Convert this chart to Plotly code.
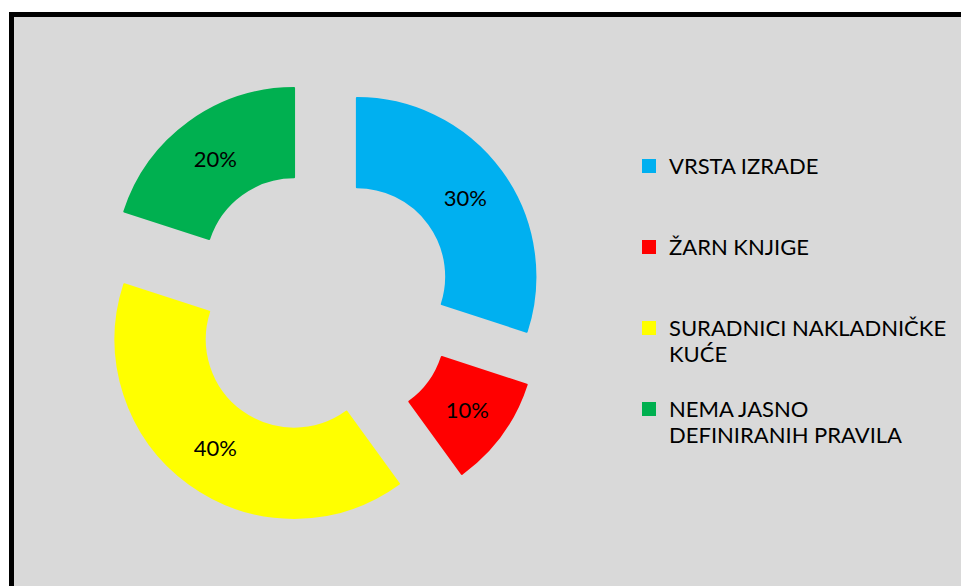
import plotly.graph_objects as go

categories = ["VRSTA IZRADE", "ŽARN KNJIGE", "SURADNICI NAKLADNIČKE KUĆE", "NEMA JASNO DEFINIRANIH PRAVILA"]
legend_lines = [
    ["VRSTA IZRADE", " ", " "],
    ["ŽARN KNJIGE", " ", " "],
    ["SURADNICI NAKLADNIČKE", "KUĆE", " "],
    ["NEMA JASNO", "DEFINIRANIH PRAVILA"],
]
values = [30, 10, 40, 20]
colors = ["#00B0F0", "#FF0000", "#FFFF00", "#00B050"]

W, H = 961, 586
cx, cy = 320.5, 303.0
half = 223.5

legend_labels = ["<br>".join('<span style="font-size:22px">%s</span>' % t for t in lines)
                 for lines in legend_lines]

fig = go.Figure(go.Pie(
    labels=legend_labels,
    values=values,
    marker=dict(colors=colors, line=dict(width=2, color=colors)),
    hole=0.5,
    pull=[0.252] * 4,
    sort=False,
    direction="clockwise",
    rotation=0,
    textinfo="percent",
    texttemplate="%{percent:.0%}",
    textposition="inside",
    insidetextorientation="horizontal",
    textfont=dict(family="Lato", size=22, color="#000000"),
    domain=dict(x=[(cx - half) / W, (cx + half) / W],
                y=[1 - (cy + half) / H, 1 - (cy - half) / H]),
))

fig.update_layout(
    width=W, height=H,
    margin=dict(l=0, r=0, t=0, b=0),
    paper_bgcolor="#FFFFFF",
    plot_bgcolor="#D9D9D9",
    font=dict(family="Lato", color="#000000"),
    showlegend=True,
    legend=dict(
        x=629 / W, xanchor="left",
        y=1 - 146.5 / H, yanchor="top",
        font=dict(family="Lato", size=20, color="#000000"),
        valign="top",
        bgcolor="rgba(0,0,0,0)",
        borderwidth=0,
    ),
    shapes=[dict(
        type="rect", xref="paper", yref="paper", layer="below",
        x0=11.5 / W, x1=1.05, y0=-0.05, y1=1 - 14.5 / H,
        fillcolor="#D9D9D9", line=dict(color="#000000", width=5),
    )],
)

fig.write_html(
    "out.html",
    config={"displayModeBar": False},
    post_script="document.body.style.margin='0';document.body.style.overflow='hidden';",
)
